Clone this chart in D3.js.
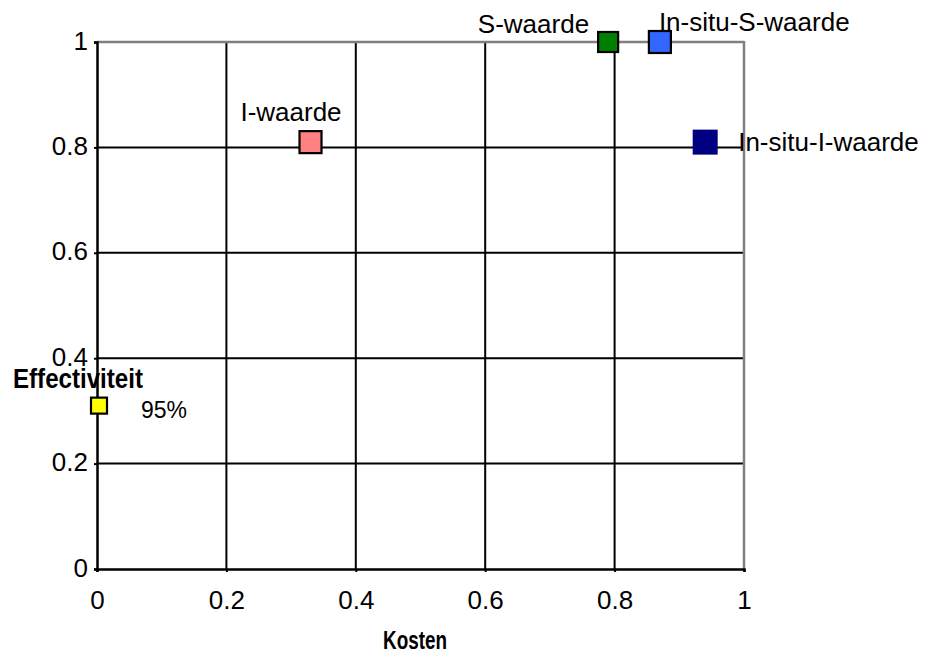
<!DOCTYPE html>
<html>
<head>
<meta charset="utf-8">
<script src="https://cdn.jsdelivr.net/npm/d3@7"></script>
<style>
  html, body { margin: 0; padding: 0; background: #fff; }
  svg { display: block; }
  text { font-family: "Liberation Sans", Arial, sans-serif; fill: #000; }
</style>
</head>
<body>
<svg id="chart" width="925" height="657"></svg>
<script>
// ---- data ----
const pointNames = ["Effectiviteit", "I-waarde", "S-waarde", "In-situ-S-waarde", "In-situ-I-waarde"];
const kostenValues = [0.0, 0.33, 0.79, 0.87, 0.94];
const effectiviteitValues = [0.31, 0.81, 1.0, 1.0, 0.81];
const xTickValues = [0, 0.2, 0.4, 0.6, 0.8, 1];
const yTickValues = [0, 0.2, 0.4, 0.6, 0.8, 1];
const xTickLabels = ["0", "0.2", "0.4", "0.6", "0.8", "1"];
const yTickLabels = ["0", "0.2", "0.4", "0.6", "0.8", "1"];
const extraLabel = "95%";
const xAxisTitle = "Kosten";

// ---- styles (not data) ----
const markerFill = ["#ffff00", "#ff8080", "#008000", "#3366ff", "#000080"];
const markerSize = [16, 22, 20, 22, 25];
const markerStroke = ["#000", "#000", "#000", "#000", "none"];
const labelDx = [-21, -19.5, -19, -1, 33];
const labelDy = [-17.5, -21, -9, -11, 8.5];
const labelAnchor = ["middle", "middle", "end", "start", "start"];

const svg = d3.select("#chart");
const x = d3.scaleLinear().domain([0, 1]).range([97, 744]);
const y = d3.scaleLinear().domain([0, 1]).range([569, 42]);

// gridlines
const grid = svg.append("g");
grid.selectAll("line.v").data(xTickValues.filter(d => d > 0 && d < 1)).join("line")
  .attr("x1", d => x(d)).attr("x2", d => x(d)).attr("y1", y(0)).attr("y2", y(1))
  .attr("stroke", "#000").attr("stroke-width", 2);
grid.selectAll("line.h").data(yTickValues.filter(d => d > 0 && d < 1)).join("line")
  .attr("x1", x(0)).attr("x2", x(1)).attr("y1", d => y(d)).attr("y2", d => y(d))
  .attr("stroke", "#000").attr("stroke-width", 2);
// top & right frame (gray)
grid.append("line").attr("x1", x(0)).attr("x2", x(1)).attr("y1", y(1)).attr("y2", y(1))
  .attr("stroke", "#808080").attr("stroke-width", 2.5);
grid.append("line").attr("x1", x(1)).attr("x2", x(1)).attr("y1", y(1) - 1).attr("y2", y(0))
  .attr("stroke", "#808080").attr("stroke-width", 2.5);

// axes
const xAxis = d3.axisBottom(x).tickValues(xTickValues).tickFormat((d, i) => xTickLabels[i]).tickSize(3).tickPadding(19);
const yAxis = d3.axisLeft(y).tickValues(yTickValues).tickFormat((d, i) => yTickLabels[i]).tickSize(3).tickPadding(6);
const gx = svg.append("g").attr("transform", `translate(0,${y(0)})`).call(xAxis);
const gy = svg.append("g").attr("transform", `translate(${x(0)},0)`).call(yAxis);
[gx, gy].forEach(g => {
  g.select(".domain").attr("stroke", "#000").attr("stroke-width", 2.5);
  g.selectAll(".tick line").attr("stroke", "#000").attr("stroke-width", 2);
  g.selectAll(".tick text").attr("font-size", 26).attr("font-family", "'Liberation Sans', Arial, sans-serif").attr("fill", "#000");
});
gy.selectAll(".tick text").attr("dy", "0.27em");
gx.selectAll(".tick text").attr("dy", "0.71em");

// markers
const pts = pointNames.map((n, i) => ({ name: n, kx: kostenValues[i], ey: effectiviteitValues[i], i }));
svg.append("g").selectAll("rect").data(pts).join("rect")
  .attr("x", d => x(d.kx) - markerSize[d.i] / 2 + (d.i === 0 ? 2 : 0))
  .attr("y", d => y(d.ey) - markerSize[d.i] / 2)
  .attr("width", d => markerSize[d.i])
  .attr("height", d => markerSize[d.i])
  .attr("fill", d => markerFill[d.i])
  .attr("stroke", d => markerStroke[d.i])
  .attr("stroke-width", 2.2);

// point labels
const lbl = svg.append("g");
lbl.selectAll("text").data(pts).join("text")
  .attr("x", d => x(d.kx) + labelDx[d.i] + (d.i === 0 ? 2 : 0))
  .attr("y", d => y(d.ey) + labelDy[d.i])
  .attr("text-anchor", d => labelAnchor[d.i])
  .attr("font-size", d => d.i === 0 ? 27 : 26)
  .attr("font-weight", d => d.i === 0 ? "bold" : "normal")
  .each(function (d) {
    if (d.i === 0) d3.select(this).attr("textLength", 130).attr("lengthAdjust", "spacingAndGlyphs");
  })
  .text(d => d.name);

lbl.append("text")
  .attr("x", x(kostenValues[0]) + 44)
  .attr("y", y(effectiviteitValues[0]) + 12)
  .attr("font-size", 23)
  .text(extraLabel);

// x-axis title
svg.append("text")
  .attr("x", 383).attr("y", 649)
  .attr("font-size", 25).attr("font-weight", "bold")
  .attr("textLength", 64).attr("lengthAdjust", "spacingAndGlyphs")
  .text(xAxisTitle);
</script>
</body>
</html>
